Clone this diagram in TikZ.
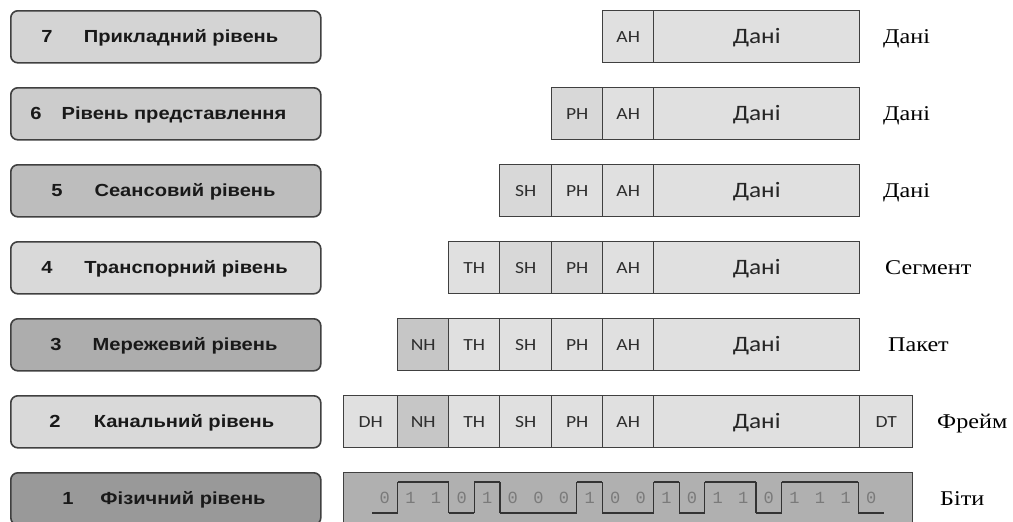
\documentclass[tikz,border=0pt]{standalone}
\usepackage{fontspec}
\setmainfont{Liberation Serif}[FakeStretch=1.15]
\newfontfamily\lblfont{Liberation Sans}[FakeStretch=1.15]
\newfontfamily\cellfont{Carlito}[FakeStretch=1.15]
\newfontfamily\bitfont{Liberation Mono}
\definecolor{bordc}{HTML}{404040}
\definecolor{cellc}{HTML}{E0E0E0}
\definecolor{celld}{HTML}{D8D8D8}
\definecolor{nhc}{HTML}{C6C6C6}
\definecolor{bitsc}{HTML}{B0B0B0}
\definecolor{txtc}{HTML}{2E2E2E}
\definecolor{digc}{HTML}{7A7A7A}
\tikzset{
  lvlbox/.style={draw=bordc, line width=1.6pt, rounded corners=7pt, minimum width=310pt, minimum height=52pt, anchor=north west, inner sep=0pt},
  lvlnum/.style={anchor=base, font=\lblfont\bfseries\fontsize{17.5}{20}\selectfont, text=black!90, inner sep=0pt},
  lvlname/.style={anchor=base, font=\lblfont\bfseries\fontsize{17.5}{20}\selectfont, text=black!90, inner sep=0pt},
  cellbox/.style={draw=bordc, line width=1.4pt, minimum height=52pt, anchor=north west, inner sep=0pt, text height=11pt, text depth=0pt, font=\cellfont\fontsize{17}{20}\selectfont, text=txtc},
  databox/.style={cellbox, text height=14pt, text depth=0pt, font=\cellfont\fontsize{22}{26}\selectfont, text=black!85},
  unitlbl/.style={anchor=base west, font=\fontsize{21}{25}\selectfont, text=black, inner sep=0pt},
  wave/.style={draw=black!80, line width=1.3pt},
  digit/.style={font=\bitfont\fontsize{17}{20}\selectfont, text=digc, inner sep=0pt}
}
\begin{document}
\begin{tikzpicture}[x=1pt, y=-1pt]
\useasboundingbox (0,0) rectangle (1013,522);
% ---- left level boxes ----
\node[lvlbox, fill=black!17] (L7) at (10,10) {};
\node[lvlbox, fill=black!20] (L6) at (10,87) {};
\node[lvlbox, fill=black!26] (L5) at (10,164) {};
\node[lvlbox, fill=black!15] (L4) at (10,241) {};
\node[lvlbox, fill=black!32] (L3) at (10,318) {};
\node[lvlbox, fill=black!15] (L2) at (10,395) {};
\node[lvlbox, fill=black!40] (L1) at (10,472) {};
\node[lvlnum] (n7) at (47,42) {7};
\node[lvlname] (t7) at (181,42) {Прикладний рівень};
\node[lvlnum] (n6) at (36,119) {6};
\node[lvlname] (t6) at (174,119) {Рівень представлення};
\node[lvlnum] (n5) at (57,196) {5};
\node[lvlname] (t5) at (185,196) {Сеансовий рівень};
\node[lvlnum] (n4) at (47,273) {4};
\node[lvlname] (t4) at (186,273) {Транспорний рівень};
\node[lvlnum] (n3) at (56,350) {3};
\node[lvlname] (t3) at (185,350) {Мережевий рівень};
\node[lvlnum] (n2) at (55,427) {2};
\node[lvlname] (t2) at (184,427) {Канальний рівень};
\node[lvlnum] (n1) at (68,504) {1};
\node[lvlname] (t1) at (183,504) {Фізичний рівень};
% ---- packet cells ----
% row 7
\node[cellbox, fill=cellc, minimum width=51pt] (r7ah) at (602,10) {AH};
\node[databox, fill=cellc, minimum width=206pt] (r7d) at (653,10) {Дані};
% row 6
\node[cellbox, fill=celld, minimum width=51pt] (r6ph) at (551,87) {PH};
\node[cellbox, fill=cellc, minimum width=51pt] (r6ah) at (602,87) {AH};
\node[databox, fill=cellc, minimum width=206pt] (r6d) at (653,87) {Дані};
% row 5
\node[cellbox, fill=celld, minimum width=52pt] (r5sh) at (499,164) {SH};
\node[cellbox, fill=cellc, minimum width=51pt] (r5ph) at (551,164) {PH};
\node[cellbox, fill=cellc, minimum width=51pt] (r5ah) at (602,164) {AH};
\node[databox, fill=cellc, minimum width=206pt] (r5d) at (653,164) {Дані};
% row 4
\node[cellbox, fill=cellc, minimum width=51pt] (r4th) at (448,241) {TH};
\node[cellbox, fill=celld, minimum width=52pt] (r4sh) at (499,241) {SH};
\node[cellbox, fill=celld, minimum width=51pt] (r4ph) at (551,241) {PH};
\node[cellbox, fill=cellc, minimum width=51pt] (r4ah) at (602,241) {AH};
\node[databox, fill=cellc, minimum width=206pt] (r4d) at (653,241) {Дані};
% row 3
\node[cellbox, fill=nhc, minimum width=51pt] (r3nh) at (397,318) {NH};
\node[cellbox, fill=cellc, minimum width=51pt] (r3th) at (448,318) {TH};
\node[cellbox, fill=cellc, minimum width=52pt] (r3sh) at (499,318) {SH};
\node[cellbox, fill=cellc, minimum width=51pt] (r3ph) at (551,318) {PH};
\node[cellbox, fill=cellc, minimum width=51pt] (r3ah) at (602,318) {AH};
\node[databox, fill=cellc, minimum width=206pt] (r3d) at (653,318) {Дані};
% row 2
\node[cellbox, fill=cellc, minimum width=54pt] (r2dh) at (343,395) {DH};
\node[cellbox, fill=nhc, minimum width=51pt] (r2nh) at (397,395) {NH};
\node[cellbox, fill=cellc, minimum width=51pt] (r2th) at (448,395) {TH};
\node[cellbox, fill=cellc, minimum width=52pt] (r2sh) at (499,395) {SH};
\node[cellbox, fill=cellc, minimum width=51pt] (r2ph) at (551,395) {PH};
\node[cellbox, fill=cellc, minimum width=51pt] (r2ah) at (602,395) {AH};
\node[databox, fill=cellc, minimum width=206pt] (r2d) at (653,395) {Дані};
\node[cellbox, fill=cellc, minimum width=53pt] (r2dt) at (859,395) {DT};
% row 1 bits
\node[cellbox, fill=bitsc, minimum width=569pt] (r1bits) at (343,472) {};
\foreach \b [count=\i from 0, remember=\b as \p (initially 0)] in {0,1,1,0,1,0,0,0,1,0,0,1,0,1,1,0,1,1,1,0}{
  \draw[wave] ({372+25.6*\i},{513-31*\b}) -- ({372+25.6*(\i+1)},{513-31*\b});
  \ifnum\b=\p\else
    \draw[wave] ({372+25.6*\i},513) -- ({372+25.6*\i},482);
  \fi
  \node[digit] (bit\i) at ({384.8+25.6*\i},498) {\b};
}
% ---- unit labels ----
\node[unitlbl] (u7) at (883,43) {Дані};
\node[unitlbl] (u6) at (883,120) {Дані};
\node[unitlbl] (u5) at (883,197) {Дані};
\node[unitlbl] (u4) at (885,274) {Сегмент};
\node[unitlbl] (u3) at (888,351) {Пакет};
\node[unitlbl] (u2) at (937,428) {Фрейм};
\node[unitlbl] (u1) at (940,505) {Біти};
\end{tikzpicture}
\end{document}
